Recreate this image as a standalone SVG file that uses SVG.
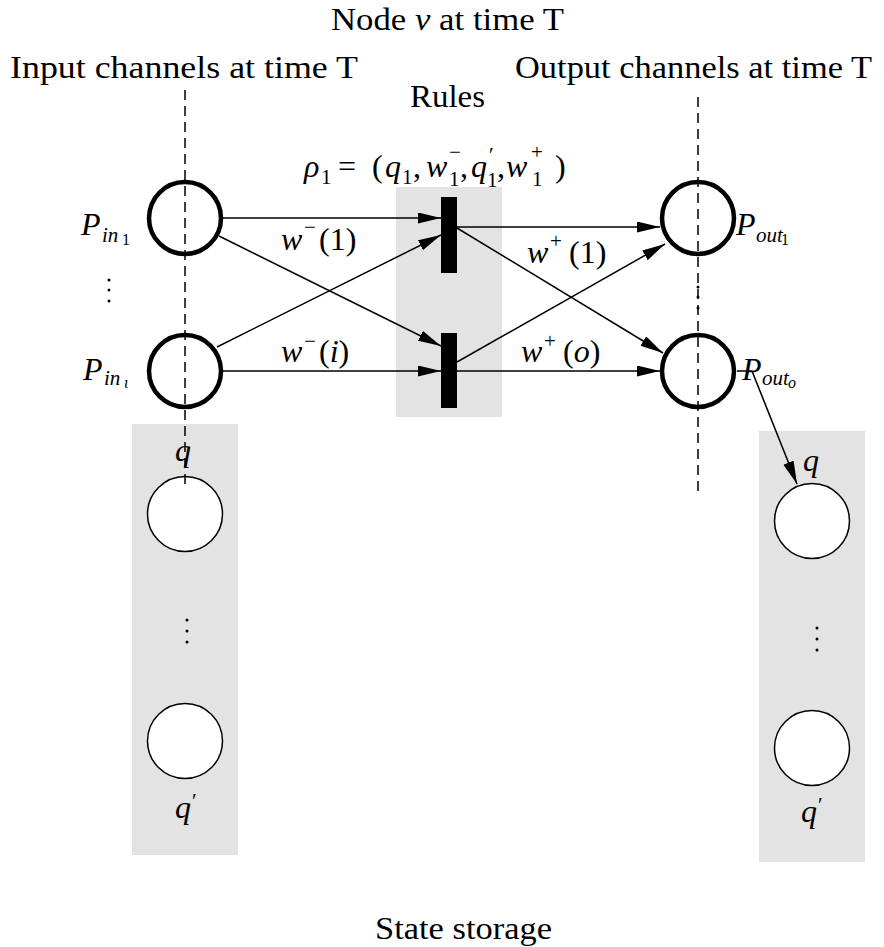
<svg xmlns="http://www.w3.org/2000/svg" width="884" height="947" viewBox="0 0 884 947">
<style>
.t{font-size:31px}
.m{font-style:italic;font-size:32px}
.r{font-size:32px}
.s{font-size:21px}
.ss{font-size:16px}
.grey{fill:#e3e3e3}
.node{fill:#fff;stroke:#000;stroke-width:4.5}
.st{fill:#fff;stroke:#000;stroke-width:1.5}
.c{stroke:#000;stroke-width:1.5;fill:none}
.dash{stroke:#000;stroke-width:1.5;stroke-dasharray:10 6;fill:none}
.bar{fill:#000}
.dot{fill:#000}
</style>
<defs>
<marker id="ah" markerUnits="userSpaceOnUse" markerWidth="24" markerHeight="12" refX="23" refY="5.5" orient="auto">
<path d="M0,0 L23,5.5 L0,11 z" fill="#000"/>
</marker>
</defs>

<g id="backgrounds">
<rect class="grey" x="132" y="424" width="106" height="431"/>
<rect class="grey" x="396" y="187" width="106" height="230"/>
<rect class="grey" x="759" y="431" width="106" height="431"/>
</g>

<g id="connectors">
<line class="c" x1="223" y1="218" x2="441" y2="218" marker-end="url(#ah)"/>
<line class="c" x1="219" y1="236" x2="441" y2="346" marker-end="url(#ah)"/>
<line class="c" x1="217" y1="347" x2="441" y2="235" marker-end="url(#ah)"/>
<line class="c" x1="223" y1="371" x2="441" y2="371" marker-end="url(#ah)"/>
<line class="c" x1="457" y1="227" x2="660" y2="227" marker-end="url(#ah)"/>
<line class="c" x1="457" y1="228" x2="663" y2="353" marker-end="url(#ah)"/>
<line class="c" x1="457" y1="362" x2="665" y2="244" marker-end="url(#ah)"/>
<line class="c" x1="457" y1="371" x2="660" y2="371" marker-end="url(#ah)"/>
<polyline class="c" points="737,371 752,371 797,484" marker-end="url(#ah)"/>
</g>

<g id="in1"><circle class="node" cx="185" cy="218" r="36"/></g>
<g id="in2"><circle class="node" cx="185" cy="371" r="36"/></g>
<g id="out1"><circle class="node" cx="698" cy="218" r="36"/></g>
<g id="out2"><circle class="node" cx="698" cy="371" r="36"/></g>
<g id="rule1"><rect class="bar" x="441" y="197" width="16" height="76"/></g>
<g id="rule2"><rect class="bar" x="441" y="333" width="16" height="75"/></g>
<g id="lq"><circle class="st" cx="185" cy="514" r="37.5"/></g>
<g id="lq2"><circle class="st" cx="185" cy="741" r="37.5"/></g>
<g id="rq"><circle class="st" cx="812" cy="521" r="37.5"/></g>
<g id="rq2"><circle class="st" cx="812" cy="748" r="37.5"/></g>

<g id="dashes">
<line class="dash" x1="185" y1="90" x2="185" y2="486"/>
<line class="dash" x1="698" y1="97" x2="698" y2="493"/>
</g>

<g id="dots">
<circle class="dot" cx="109" cy="280" r="1.5"/><circle class="dot" cx="109" cy="290" r="1.5"/><circle class="dot" cx="109" cy="301" r="1.5"/>
<circle class="dot" cx="698" cy="287" r="1.5"/><circle class="dot" cx="698" cy="297" r="1.5"/><circle class="dot" cx="698" cy="308" r="1.5"/>
<circle class="dot" cx="187" cy="620" r="1.5"/><circle class="dot" cx="187" cy="631" r="1.5"/><circle class="dot" cx="187" cy="642" r="1.5"/>
<circle class="dot" cx="817" cy="628" r="1.5"/><circle class="dot" cx="817" cy="639" r="1.5"/><circle class="dot" cx="817" cy="650" r="1.5"/>
</g>

<g id="titles" font-family="'Liberation Serif', 'Times New Roman', serif" fill="#000">
<text class="t" x="331" y="30" textLength="233" lengthAdjust="spacingAndGlyphs">Node <tspan font-style="italic">ν</tspan> at time T</text>
<text class="t" x="10" y="78" textLength="348" lengthAdjust="spacingAndGlyphs">Input channels at time T</text>
<text class="t" x="515" y="78" textLength="357" lengthAdjust="spacingAndGlyphs">Output channels at time T</text>
<text class="t" x="410" y="107" textLength="75" lengthAdjust="spacingAndGlyphs">Rules</text>
<text class="t" x="375" y="939" textLength="177" lengthAdjust="spacingAndGlyphs">State storage</text>
</g>

<g id="labels" font-family="'Liberation Serif', 'Times New Roman', serif" fill="#000">
<text class="m" x="304" y="177">ρ</text>
<text class="r s" x="321" y="184">1</text>
<text class="r" x="338" y="177">=</text>
<text class="r" x="372" y="177">(</text>
<text class="m" x="385" y="177">q</text>
<text class="r s" x="402" y="184">1</text>
<text class="r" x="413" y="177">,</text>
<text class="m" x="426" y="177">w</text>
<text class="r s" x="449" y="159">−</text>
<text class="r s" x="449" y="186">1</text>
<text class="r" x="460" y="177">,</text>
<text class="m" x="471" y="177">q</text>
<text class="r s" x="489" y="162">′</text>
<text class="r s" x="487" y="187">1</text>
<text class="r" x="497" y="177">,</text>
<text class="m" x="506" y="177">w</text>
<text class="r s" x="531" y="159">+</text>
<text class="r s" x="532" y="186">1</text>
<text class="r" x="555" y="177">)</text>
<text class="m" x="281" y="250">w</text><text class="r s" x="304" y="234">−</text><text class="r" x="319" y="250">(1)</text>
<text class="m" x="527" y="263">w</text><text class="r s" x="550" y="248">+</text><text class="r" x="569" y="263">(1)</text>
<text class="m" x="281" y="362">w</text><text class="r s" x="304" y="348">−</text><text class="r" x="319" y="362">(<tspan font-style="italic">i</tspan>)</text>
<text class="m" x="521" y="362">w</text><text class="r s" x="544" y="348">+</text><text class="r" x="563" y="362">(<tspan font-style="italic">o</tspan>)</text>
<text class="m" x="81" y="235">P</text><text class="m s" x="102" y="242">in</text><text class="r ss" x="122" y="245">1</text>
<text class="m" x="83" y="380">P</text><text class="m s" x="104" y="385">in</text><text class="m ss" x="124" y="388">ι</text>
<text class="m" x="736" y="235">P</text><text class="m s" x="756" y="242">out</text><text class="r ss" x="781" y="245">1</text>
<text class="m" x="742" y="380">P</text><text class="m s" x="762" y="385">out</text><text class="m ss" x="788" y="388">o</text>
<text class="m" x="175" y="461">q</text>
<text class="m" x="175" y="818">q</text><text class="r s" x="192" y="808">′</text>
<text class="m" x="803" y="471">q</text>
<text class="m" x="801" y="822">q</text><text class="r s" x="818" y="812">′</text>
</g>
</svg>
